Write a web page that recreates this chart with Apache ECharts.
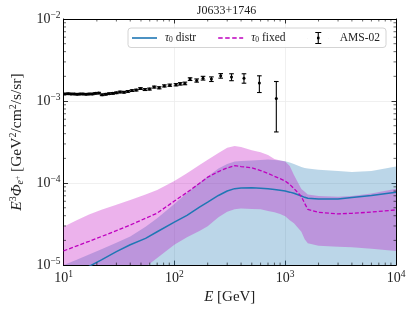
<!DOCTYPE html>
<html><head><meta charset="utf-8">
<script src="https://cdn.jsdelivr.net/npm/echarts@6/dist/echarts.min.js"></script>
<style>html,body{margin:0;padding:0;background:#fff}#c{width:413px;height:310px}</style>
</head><body><div id="c"></div>
<script>
// ---------------- data ----------------
const TITLE = 'J0633+1746';
const X_RANGE = [10, 10000];
const Y_RANGE = [1e-5, 1e-2];
const X_TICK_EXP = {10: '1', 100: '2', 1000: '3', 10000: '4'};
const Y_TICK_EXP = {'-5': '−5', '-4': '−4', '-3': '−3', '-2': '−2'};
const MINOR_MULT = [2, 3, 4, 5, 6, 7, 8, 9];

const E_GRID = [10,13,17,22,30,40,55,70,100,130,170,200,250,300,350,400,500,600,700,800,900,1000,1100,1200,1400,1500,1600,2000,3000,4000,6000,10000];

const distrLine = [6.6e-6,7.98e-6,9.64e-6,1.16e-5,1.46e-5,1.77e-5,2.12e-5,2.55e-5,3.34e-5,4.04e-5,5.13e-5,5.86e-5,7.06e-5,8.01e-5,8.55e-5,8.71e-5,8.74e-5,8.65e-5,8.53e-5,8.36e-5,8.18e-5,7.98e-5,7.75e-5,7.50e-5,6.95e-5,6.70e-5,6.52e-5,6.38e-5,6.41e-5,6.68e-5,7.06e-5,7.74e-5];
const distrUpper = [1.0e-5,1.15e-5,1.35e-5,1.56e-5,1.87e-5,2.23e-5,2.93e-5,3.72e-5,5.57e-5,7.59e-5,1.02e-4,1.20e-4,1.50e-4,1.71e-4,1.83e-4,1.86e-4,1.88e-4,1.91e-4,1.94e-4,1.91e-4,1.88e-4,1.85e-4,1.78e-4,1.71e-4,1.57e-4,1.53e-4,1.50e-4,1.45e-4,1.40e-4,1.36e-4,1.40e-4,1.59e-4];
const distrLower = [2.0e-6,2.3e-6,2.7e-6,3.1e-6,3.6e-6,4.2e-6,5.0e-6,5.6e-6,6.3e-6,6.8e-6,7.2e-6,7.5e-6,7.8e-6,8.0e-6,8.1e-6,8.2e-6,8.1e-6,8.0e-6,7.8e-6,7.6e-6,7.3e-6,7.0e-6,6.8e-6,6.5e-6,6.0e-6,5.8e-6,5.6e-6,5.2e-6,4.8e-6,4.6e-6,4.5e-6,4.4e-6];

const fixedLine = [1.49e-5,1.70e-5,1.95e-5,2.23e-5,2.63e-5,3.08e-5,3.72e-5,4.30e-5,6.03e-5,7.69e-5,1.00e-4,1.18e-4,1.38e-4,1.53e-4,1.63e-4,1.59e-4,1.53e-4,1.42e-4,1.31e-4,1.21e-4,1.13e-4,1.06e-4,9.62e-5,8.59e-5,6.87e-5,5.65e-5,4.78e-5,4.40e-5,4.21e-5,4.28e-5,4.43e-5,4.71e-5];
const fixedUpper = [2.94e-5,3.50e-5,4.15e-5,4.72e-5,5.45e-5,6.21e-5,7.23e-5,8.26e-5,1.06e-4,1.32e-4,1.67e-4,1.93e-4,2.33e-4,2.70e-4,2.84e-4,2.75e-4,2.52e-4,2.37e-4,2.20e-4,1.96e-4,1.88e-4,1.83e-4,1.61e-4,1.25e-4,8.47e-5,7.83e-5,7.26e-5,6.97e-5,6.81e-5,6.97e-5,7.48e-5,8.53e-5];
const fixedLower = [1.57e-6,2.08e-6,2.75e-6,3.6e-6,5.0e-6,6.8e-6,9.5e-6,1.22e-5,1.77e-5,2.18e-5,2.62e-5,2.97e-5,3.82e-5,4.46e-5,4.78e-5,4.91e-5,4.84e-5,4.78e-5,4.58e-5,4.40e-5,4.21e-5,3.93e-5,3.52e-5,3.23e-5,2.55e-5,2.07e-5,1.85e-5,1.72e-5,1.67e-5,1.65e-5,1.58e-5,1.49e-5];

const amsE = [10.3,11.0,11.7,12.5,13.3,14.1,15.0,16.0,17.0,18.2,19.4,20.8,22.3,24.0,25.8,27.8,30.0,32.4,35.1,38.1,41.5,45.3,49.5,54.3,59.7,65.9,73.0,81.3,91.0,103.5,113,124.5,138.7,159,181.5,216,262,328,425,585,832];
const amsFlux = [1.22e-3,1.23e-3,1.22e-3,1.22e-3,1.21e-3,1.22e-3,1.22e-3,1.21e-3,1.22e-3,1.22e-3,1.24e-3,1.25e-3,1.19e-3,1.21e-3,1.23e-3,1.24e-3,1.26e-3,1.29e-3,1.28e-3,1.31e-3,1.34e-3,1.36e-3,1.42e-3,1.38e-3,1.40e-3,1.48e-3,1.45e-3,1.53e-3,1.56e-3,1.58e-3,1.62e-3,1.64e-3,1.85e-3,1.78e-3,1.90e-3,1.85e-3,2.03e-3,1.96e-3,1.90e-3,1.66e-3,1.07e-3];
const amsErrLo = [2.4e-5,2.4e-5,2.4e-5,2.4e-5,2.4e-5,2.4e-5,2.4e-5,2.4e-5,2.5e-5,2.5e-5,2.6e-5,2.6e-5,2.6e-5,2.7e-5,2.8e-5,2.8e-5,2.9e-5,3.0e-5,3.0e-5,3.1e-5,3.2e-5,3.3e-5,3.5e-5,3.6e-5,3.8e-5,4.0e-5,4.2e-5,4.5e-5,4.8e-5,5.0e-5,5.5e-5,6.0e-5,7.0e-5,8.0e-5,1.0e-4,1.2e-4,1.3e-4,1.9e-4,2.5e-4,3.9e-4,6.5e-4];
const amsErrHi = [2.4e-5,2.4e-5,2.4e-5,2.4e-5,2.4e-5,2.4e-5,2.4e-5,2.4e-5,2.5e-5,2.5e-5,2.6e-5,2.6e-5,2.6e-5,2.7e-5,2.8e-5,2.8e-5,2.9e-5,3.0e-5,3.0e-5,3.1e-5,3.2e-5,3.3e-5,3.5e-5,3.6e-5,3.8e-5,4.0e-5,4.2e-5,4.5e-5,4.8e-5,5.0e-5,5.5e-5,6.0e-5,7.0e-5,8.0e-5,1.0e-4,1.2e-4,1.3e-4,1.9e-4,2.5e-4,3.7e-4,6.6e-4];

// ---------------- chart ----------------
const SERIF = "'Liberation Serif','DejaVu Serif',serif";
const C_BLUE = '#1f77b4';
const C_MAG = '#bf00bf';
const chart = echarts.init(document.getElementById('c'), null, {renderer: 'canvas'});

function pairs(xs, ys) { return xs.map((x, i) => [x, ys[i]]); }

function bandRender(upper, lower, fill) {
  return function (params, api) {
    const pts = [];
    for (let i = 0; i < E_GRID.length; i++) pts.push(api.coord([E_GRID[i], upper[i]]));
    for (let i = E_GRID.length - 1; i >= 0; i--) pts.push(api.coord([E_GRID[i], lower[i]]));
    return {type: 'polygon', shape: {points: pts, smooth: 0}, style: {fill: fill}};
  };
}

const supRich = {
  b: {fontFamily: SERIF, fontSize: 14, color: '#222'},
  s: {fontFamily: SERIF, fontSize: 9.5, color: '#222', padding: [0, 0, 8, 0]}
};

function axisCommon(pos, isX, showLabel) {
  return {
    type: 'log', logBase: 10,
    min: isX ? X_RANGE[0] : Y_RANGE[0], max: isX ? X_RANGE[1] : Y_RANGE[1],
    position: pos,
    axisLine: {show: true, onZero: false, lineStyle: {color: '#000', width: 1}},
    axisTick: {show: true, inside: true, length: 4.5, lineStyle: {color: '#000', width: 0.8}},
    minorTick: {show: false},
    splitLine: {show: showLabel, lineStyle: {color: '#ececec', width: 0.8}},
    axisLabel: showLabel ? {
      show: true, margin: isX ? 4 : 3,
      formatter: function (v) {
        const e = Math.round(Math.log10(v));
        return isX ? '{b|10}{s|' + X_TICK_EXP[Math.round(v)] + '}' : '{b|10}{s|' + Y_TICK_EXP[String(e)] + '}';
      },
      rich: supRich
    } : {show: false}
  };
}

const xAxisMain = axisCommon('bottom', true, true);
xAxisMain.name = '{i|E} [GeV]';
xAxisMain.nameLocation = 'middle';
xAxisMain.nameGap = 19;
xAxisMain.nameTextStyle = {fontFamily: SERIF, fontSize: 15, color: '#222', rich: {i: {fontFamily: SERIF, fontSize: 15, fontStyle: 'italic', color: '#222'}}};

const yAxisMain = axisCommon('left', false, true);
yAxisMain.name = '{i|E}{sp|3}{i|Φ}{sb|e}{sbp|+} [GeV{sp|2}/cm{sp|2}/s/sr]';
yAxisMain.nameLocation = 'middle';
yAxisMain.nameGap = 35;
yAxisMain.nameRotate = 90;
yAxisMain.nameTextStyle = {fontFamily: SERIF, fontSize: 15.5, color: '#222', rich: {
  i: {fontFamily: SERIF, fontSize: 15.5, fontStyle: 'italic', color: '#222'},
  sp: {fontFamily: SERIF, fontSize: 10, color: '#222', padding: [0, 0, 8, 0]},
  sb: {fontFamily: SERIF, fontSize: 10, fontStyle: 'italic', color: '#222', padding: [7, 0, 0, 0]},
  sbp: {fontFamily: SERIF, fontSize: 7.5, color: '#222', padding: [2, 0, 0, 0]}
}};

const option = {
  animation: false,
  backgroundColor: '#fff',
  grid: {left: 57, right: 17, top: 19, bottom: 44, containLabel: false},
  graphic: [{
    type: 'text', x: 226.5, y: 5, z: 100,
    style: {text: TITLE, fontFamily: SERIF, fontSize: 12, fill: '#222', textAlign: 'center', textVerticalAlign: 'top'}
  }],
  legend: {
    left: 128, top: 28, orient: 'horizontal',
    itemWidth: 25, itemHeight: 12, itemGap: 22,
    backgroundColor: 'rgba(255,255,255,0.85)', borderColor: '#d4d4d4', borderWidth: 1, borderRadius: 3,
    padding: [4, 6, 3, 4],
    textStyle: {fontFamily: SERIF, fontSize: 11.5, color: '#222', padding: [0, 0, 0, 3], rich: {
      g: {fontFamily: SERIF, fontSize: 11.5, fontStyle: 'italic', color: '#222'},
      s: {fontFamily: SERIF, fontSize: 7.5, color: '#222', padding: [5, 0, 0, 0]},
      t: {fontFamily: SERIF, fontSize: 11.5, color: '#222'},
      a: {fontFamily: SERIF, fontSize: 11.5, color: '#222', padding: [0, 0, 0, 1]}
    }},
    formatter: function (name) {
      if (name === 'AMS-02') return '{a|AMS-02}';
      const parts = name.split(' ');
      return '{g|τ}{s|0}{t| ' + parts[1] + '}';
    },
    data: [
      {name: 'τ0 distr', icon: 'path://M0,0h25v1.6h-25z'},
      {name: 'τ0 fixed', icon: 'path://M0,0h4.5v1.4h-4.5z M7,0h4.5v1.4h-4.5z M14,0h4.5v1.4h-4.5z M21,0h4v1.4h-4z'},
      {name: 'AMS-02', icon: 'path://M-9,7h0.15v0.15h-0.15z M15.85,7h0.15v0.15h-0.15z M0,0h7v1.3h-7z M2.85,0h1.3v14h-1.3z M0,12.7h7v1.3h-7z M2,5.5h3v3h-3z'}
    ]
  },
  xAxis: [xAxisMain, axisCommon('top', true, false)],
  yAxis: [yAxisMain, axisCommon('right', false, false)],
  series: [
    {
      type: 'custom', name: 'distr band', clip: true, z: 1, silent: true,
      data: [[E_GRID[0], distrUpper[0]]],
      renderItem: bandRender(distrUpper, distrLower, 'rgba(31,119,180,0.3)')
    },
    {
      type: 'custom', name: 'fixed band', clip: true, z: 2, silent: true,
      data: [[E_GRID[0], fixedUpper[0]]],
      renderItem: bandRender(fixedUpper, fixedLower, 'rgba(191,0,191,0.3)')
    },
    {
      type: 'line', name: 'τ0 distr', data: pairs(E_GRID, distrLine), z: 4,
      symbol: 'none', smooth: false, clip: true,
      lineStyle: {color: C_BLUE, width: 1.5}, itemStyle: {color: C_BLUE}
    },
    {
      type: 'line', name: 'τ0 fixed', data: pairs(E_GRID, fixedLine), z: 4,
      symbol: 'none', smooth: false, clip: true,
      lineStyle: {color: C_MAG, width: 1.3, type: [4, 2]}, itemStyle: {color: C_MAG}
    },
    {
      type: 'custom', name: 'AMS-02', z: 6, clip: true,
      itemStyle: {color: '#000'},
      data: amsE.map((e, i) => [e, amsFlux[i], amsErrLo[i], amsErrHi[i]]),
      encode: {x: 0, y: 1},
      renderItem: function (params, api) {
        const x = api.value(0), y = api.value(1), lo = api.value(2), hi = api.value(3);
        const p = api.coord([x, y]);
        const pl = api.coord([x, y - lo]);
        const ph = api.coord([x, y + hi]);
        const cw = 2.3;
        const st = {stroke: '#000', lineWidth: 1.1};
        return {type: 'group', children: [
          {type: 'line', shape: {x1: p[0], y1: pl[1], x2: p[0], y2: ph[1]}, style: st},
          {type: 'line', shape: {x1: p[0] - cw, y1: pl[1], x2: p[0] + cw, y2: pl[1]}, style: st},
          {type: 'line', shape: {x1: p[0] - cw, y1: ph[1], x2: p[0] + cw, y2: ph[1]}, style: st},
          {type: 'circle', shape: {cx: p[0], cy: p[1], r: 1.5}, style: {fill: '#000'}}
        ]};
      }
    },
    {
      type: 'custom', name: 'minor ticks', z: 10, silent: true, clip: false,
      data: [[X_RANGE[0], Y_RANGE[0]]],
      renderItem: function (params, api) {
        const cs = params.coordSys;
        const top = cs.y, bottom = cs.y + cs.height, left = cs.x, right = cs.x + cs.width;
        const L = 2.5;
        const st = {stroke: '#000', lineWidth: 0.6};
        const ch = [];
        for (let d = X_RANGE[0]; d < X_RANGE[1]; d *= 10) {
          MINOR_MULT.forEach(m => {
            const px = api.coord([d * m, Y_RANGE[0]])[0];
            ch.push({type: 'line', shape: {x1: px, y1: bottom, x2: px, y2: bottom - L}, style: st});
            ch.push({type: 'line', shape: {x1: px, y1: top, x2: px, y2: top + L}, style: st});
          });
        }
        for (let d = Y_RANGE[0]; d < Y_RANGE[1] * 0.99; d *= 10) {
          MINOR_MULT.forEach(m => {
            const py = api.coord([X_RANGE[0], d * m])[1];
            ch.push({type: 'line', shape: {x1: left, y1: py, x2: left + L, y2: py}, style: st});
            ch.push({type: 'line', shape: {x1: right, y1: py, x2: right - L, y2: py}, style: st});
          });
        }
        return {type: 'group', children: ch};
      }
    }
  ]
};
chart.setOption(option);
</script></body></html>
